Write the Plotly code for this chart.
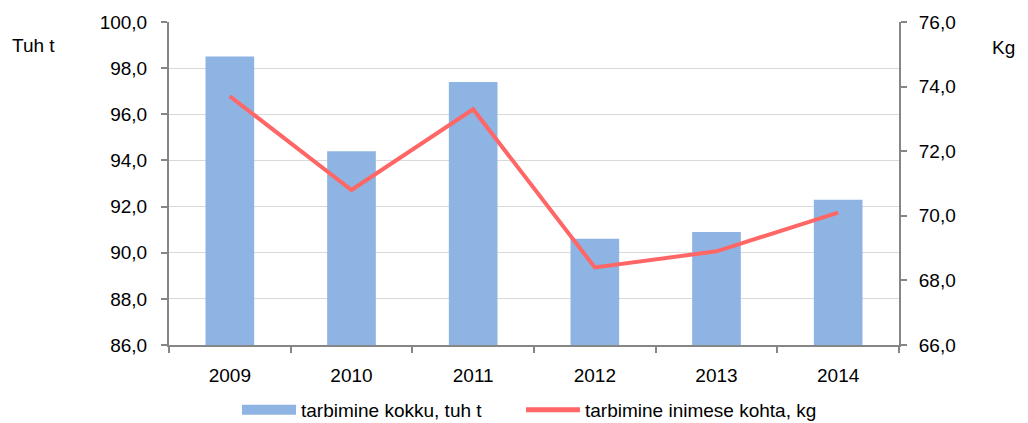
import plotly.graph_objects as go

years = ["2009", "2010", "2011", "2012", "2013", "2014"]
total = [98.5, 94.4, 97.4, 90.6, 90.9, 92.3]
per_capita = [73.7, 70.8, 73.3, 68.4, 68.9, 70.1]

left_ticks = [86, 88, 90, 92, 94, 96, 98, 100]
right_ticks = [66, 68, 70, 72, 74, 76]

BAR_COLOR = "#8EB4E3"
LINE_COLOR = "#FF6666"
AXIS_COLOR = "#868686"
font = dict(family="Liberation Sans, Arial, sans-serif", size=19, color="#000000")

# page offset (default body margin) and target plot box in window pixels
O = 8
PL, PR, PT, PB = 169, 899, 22, 345
W, H = 1028 - O, 423 - O
L, R, T, B = PL - O, (O + W) - PR, PT - O, (O + H) - PB
PW = PR - PL
PH = PB - PT

fig = go.Figure()
fig.add_trace(go.Bar(x=years, y=total, name="tarbimine kokku, tuh t",
                     marker=dict(color=BAR_COLOR, line=dict(width=0)), yaxis="y",
                     showlegend=False))
fig.add_trace(go.Scatter(x=years, y=per_capita, name="tarbimine inimese kohta, kg",
                         mode="lines", line=dict(color=LINE_COLOR, width=4), yaxis="y2",
                         showlegend=False))
# legend entries
fig.add_trace(go.Scatter(x=[years[0]], y=[None], name="tarbimine kokku, tuh t",
                         mode="lines", line=dict(color=BAR_COLOR, width=12), yaxis="y",
                         showlegend=True, legend="legend"))
fig.add_trace(go.Scatter(x=[years[0]], y=[None], name="tarbimine inimese kohta, kg",
                         mode="lines", line=dict(color=LINE_COLOR, width=5), yaxis="y2",
                         showlegend=True, legend="legend2"))

axis_common = dict(showline=True, linecolor=AXIS_COLOR, linewidth=2,
                   ticks="outside", ticklen=6, tickcolor=AXIS_COLOR, tickwidth=2,
                   zeroline=False, tickfont=font, automargin=False)

legend_common = dict(orientation="h", xanchor="left", y=-(410 - PB) / PH, yanchor="middle",
                     font=font, itemwidth=54, bgcolor="rgba(0,0,0,0)")

fig.update_layout(
    width=W, height=H,
    margin=dict(l=L, r=R, t=T, b=B, autoexpand=False),
    paper_bgcolor="white", plot_bgcolor="white",
    separators=", ",
    font=font,
    bargap=0.6,
    showlegend=True,
    legend=dict(x=(237 - PL) / PW, **legend_common),
    legend2=dict(x=(521 - PL) / PW, **legend_common),
    xaxis=dict(type="category", tickson="boundaries", showgrid=False,
               ticklabelstandoff=12, **axis_common),
    yaxis=dict(range=[86, 100], tickvals=left_ticks, tickformat=".1f",
               showgrid=True, gridcolor="#D9D9D9", gridwidth=1,
               ticklabelstandoff=10, **axis_common),
    yaxis2=dict(range=[66, 76], tickvals=right_ticks, tickformat=".1f",
                overlaying="y", side="right", showgrid=False,
                ticklabelstandoff=8, **axis_common),
)
fig.add_annotation(text="Tuh t", xref="paper", yref="paper", x=(10 - PL) / PW, y=1 - (45 - PT) / PH,
                   xanchor="left", yanchor="middle", showarrow=False, font=font)
fig.add_annotation(text="Kg", xref="paper", yref="paper", x=(1017 - PL) / PW, y=1 - (47 - PT) / PH,
                   xanchor="right", yanchor="middle", showarrow=False, font=font)

fig.write_html("out.html")
